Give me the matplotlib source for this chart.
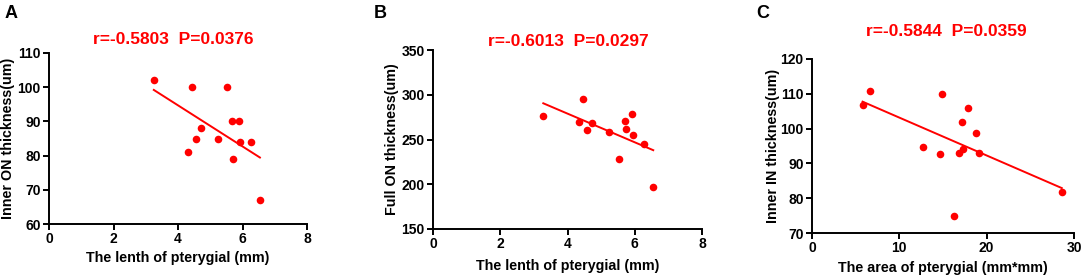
import numpy as np
import matplotlib
matplotlib.use("Agg")
import matplotlib.pyplot as plt

plt.rcParams['font.family'] = ['Liberation Sans', 'DejaVu Sans']
plt.rcParams['font.weight'] = 'bold'

# Panel A
len_mm = [3.25, 4.32, 4.42, 4.55, 4.70, 5.23, 5.52, 5.67, 5.72, 5.89, 5.93, 6.25, 6.54]
inner_on = [102, 81, 100, 85, 88, 85, 100, 90, 79, 90, 84, 84, 67]
# Panel B
len_mm_b = [3.28, 4.34, 4.45, 4.57, 4.72, 5.24, 5.53, 5.70, 5.74, 5.91, 5.96, 6.27, 6.55]
full_on = [276, 270, 295, 261, 268, 258.5, 228, 271, 262, 279, 255, 245, 197]
# Panel C
area_mm2 = [5.79, 6.62, 12.68, 14.66, 14.92, 16.8, 17.3, 17.2, 17.9, 18.77, 19.1, 16.25, 28.6]
inner_in = [106.9, 110.9, 94.8, 92.8, 109.8, 92.9, 94.0, 101.8, 105.8, 98.6, 92.9, 74.8, 81.7]

titles = ["r=-0.5803  P=0.0376", "r=-0.6013  P=0.0297", "r=-0.5844  P=0.0359"]
letters = ["A", "B", "C"]
xlabels = ["The lenth of pterygial (mm)", "The lenth of pterygial (mm)", "The area of pterygial (mm*mm)"]
ylabels = ["Inner ON thickness(um)", "Full ON thickness(um)", "Inner IN thickness(um)"]
xticks = [[0, 2, 4, 6, 8], [0, 2, 4, 6, 8], [0, 10, 20, 30]]
yticks = [[60, 70, 80, 90, 100, 110], [150, 200, 250, 300, 350], [70, 80, 90, 100, 110, 120]]

W, H = 1084, 279
fig = plt.figure(figsize=(W / 100, H / 100), dpi=100)

# axes boxes in pixels: left, top, right, bottom
boxes = [(49, 53, 307, 224), (433, 50, 702, 229), (812, 59, 1074, 233)]
title_pos = [(173, 40), (568, 42), (946, 31)]
letter_pos = [(11, 13), (380, 13), (763, 13)]
ylab_x = [8, 392, 773]
xlab_y = [258, 266, 268]

data = [(len_mm, inner_on), (len_mm_b, full_on), (area_mm2, inner_in)]
red = '#ff0000'

for i in range(3):
    l, t, r, b = boxes[i]
    ax = fig.add_axes([l / W, 1 - b / H, (r - l) / W, (b - t) / H])
    x, y = np.array(data[i][0]), np.array(data[i][1])
    ax.scatter(x, y, s=30, color=red, zorder=3, linewidths=0, clip_on=False)
    k, c = np.polyfit(x, y, 1)
    xx = np.array([x.min(), x.max()])
    ax.plot(xx, k * xx + c, color=red, lw=1.4, zorder=2)
    ax.set_xlim(xticks[i][0], xticks[i][-1])
    ax.set_ylim(yticks[i][0], yticks[i][-1])
    ax.set_xticks(xticks[i])
    ax.set_yticks(yticks[i])
    for s in ['top', 'right']:
        ax.spines[s].set_visible(False)
    for s in ['left', 'bottom']:
        ax.spines[s].set_linewidth(1.4)
        ax.spines[s].set_color('black')
    ax.tick_params(direction='out', length=4, width=1.4, labelsize=10, pad=2)
    for lab in ax.get_xticklabels() + ax.get_yticklabels():
        lab.set_fontweight('bold')
    ax.set_xlabel(xlabels[i], fontsize=10.3, fontweight='bold')
    ax.set_ylabel(ylabels[i], fontsize=10.3, fontweight='bold')
    ax.xaxis.set_label_coords(0.5, -(xlab_y[i] - b) / (b - t))
    ax.xaxis.label.set_va('center')
    ax.yaxis.set_label_coords((ylab_x[i] - l) / (r - l), 0.5)
    ax.yaxis.label.set_va('center')
    tx, ty = title_pos[i]
    fig.text(tx / W, 1 - ty / H, titles[i], color=red, fontsize=12.5, fontweight='bold',
             ha='center', va='center')
    lx, ly = letter_pos[i]
    fig.text(lx / W, 1 - ly / H, letters[i], color='black', fontsize=13, fontweight='bold',
             ha='center', va='center')

fig.savefig('out.png', dpi=100)
